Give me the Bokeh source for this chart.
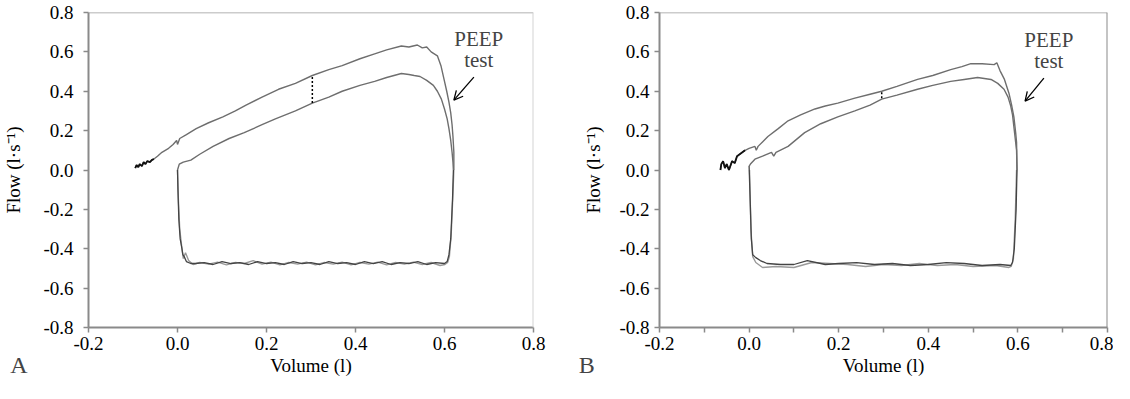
from bokeh.plotting import figure
from bokeh.models import Range1d, FixedTicker, PrintfTickFormatter, Span, Label, Arrow, OpenHead
from bokeh.layouts import row
from bokeh.embed import file_html
from bokeh.resources import INLINE

FONT = "Liberation Serif"

# ---------------- Panel A data ----------------
A_outer_v = [-0.095, -0.092, -0.088, -0.085, -0.08, -0.076, -0.072, -0.068, -0.062, -0.058, -0.053, -0.045,
             -0.035, -0.02, -0.01, -0.002, 0.0, 0.005, 0.02, 0.042, 0.07, 0.102, 0.13, 0.154, 0.19, 0.227,
             0.265, 0.303, 0.34, 0.37, 0.41, 0.443, 0.47, 0.503, 0.52, 0.539, 0.55, 0.56, 0.57, 0.584,
             0.592, 0.599, 0.605, 0.61, 0.614, 0.617, 0.619, 0.621, 0.621]
A_outer_f = [0.01, 0.025, 0.015, 0.03, 0.02, 0.04, 0.03, 0.045, 0.04, 0.05, 0.056, 0.07,
             0.09, 0.11, 0.13, 0.15, 0.13, 0.16, 0.18, 0.21, 0.24, 0.27, 0.30, 0.33, 0.37, 0.41,
             0.44, 0.48, 0.51, 0.53, 0.565, 0.59, 0.61, 0.63, 0.625, 0.635, 0.62, 0.625, 0.60, 0.58,
             0.53, 0.46, 0.40, 0.345, 0.29, 0.23, 0.17, 0.09, 0.0]
A_inner_v = [0.0, 0.004, 0.013, 0.03, 0.05, 0.08, 0.116, 0.15, 0.19, 0.22, 0.265, 0.303, 0.34, 0.37, 0.41,
             0.443, 0.47, 0.503, 0.52, 0.532, 0.545, 0.56, 0.575, 0.584, 0.593, 0.6, 0.606, 0.61, 0.614,
             0.617, 0.619, 0.62]
A_inner_f = [0.0, 0.03, 0.04, 0.05, 0.08, 0.12, 0.16, 0.19, 0.23, 0.26, 0.30, 0.34, 0.37, 0.40, 0.43,
             0.45, 0.47, 0.49, 0.485, 0.48, 0.475, 0.455, 0.43, 0.40, 0.36, 0.31, 0.26, 0.21, 0.15,
             0.09, 0.04, 0.0]
A_insp1_v = [0.620, 0.618, 0.614, 0.610, 0.606, 0.600, 0.58, 0.56, 0.54, 0.52, 0.50, 0.48, 0.46, 0.44, 0.42,
             0.40, 0.38, 0.36, 0.34, 0.32, 0.30, 0.28, 0.26, 0.24, 0.22, 0.20, 0.18, 0.16, 0.14, 0.12,
             0.10, 0.08, 0.06, 0.04, 0.03, 0.02, 0.015, 0.012, 0.01, 0.006, 0.003, 0.001, 0.0]
A_insp1_f = [0.0, -0.15, -0.35, -0.43, -0.465, -0.475, -0.47, -0.48, -0.465, -0.475, -0.47, -0.48, -0.465,
             -0.475, -0.465, -0.48, -0.47, -0.475, -0.465, -0.48, -0.47, -0.475, -0.465, -0.48, -0.47,
             -0.475, -0.465, -0.48, -0.47, -0.475, -0.465, -0.48, -0.47, -0.475, -0.475, -0.465, -0.44,
             -0.43, -0.40, -0.35, -0.25, -0.1, 0.0]
A_insp2_v = [0.621, 0.619, 0.615, 0.611, 0.607, 0.601, 0.59, 0.57, 0.55, 0.53, 0.51, 0.49, 0.47, 0.45, 0.43,
             0.41, 0.39, 0.37, 0.35, 0.33, 0.31, 0.29, 0.27, 0.25, 0.23, 0.21, 0.19, 0.17, 0.15, 0.13,
             0.11, 0.09, 0.07, 0.05, 0.035, 0.025, 0.018, 0.013, 0.009, 0.005, 0.002, 0.0]
A_insp2_f = [0.0, -0.12, -0.33, -0.44, -0.47, -0.48, -0.485, -0.47, -0.48, -0.468, -0.478, -0.47, -0.482,
             -0.468, -0.478, -0.47, -0.482, -0.468, -0.478, -0.47, -0.482, -0.468, -0.478, -0.47, -0.482,
             -0.468, -0.478, -0.46, -0.475, -0.47, -0.482, -0.468, -0.478, -0.47, -0.48, -0.46, -0.42,
             -0.45, -0.38, -0.30, -0.15, 0.0]
A_dot_v = [0.303, 0.303]
A_dot_f = [0.34, 0.48]

# ---------------- Panel B data ----------------
B_outer_v = [-0.064, -0.062, -0.058, -0.054, -0.05, -0.045, -0.038, -0.032, -0.027, -0.018, -0.009, 0.0,
             0.013, 0.016, 0.02, 0.042, 0.065, 0.087, 0.115, 0.147, 0.17, 0.198, 0.236, 0.27, 0.296, 0.33,
             0.376, 0.41, 0.45, 0.475, 0.495, 0.52, 0.547, 0.553, 0.56, 0.57, 0.58, 0.586, 0.591, 0.595,
             0.597, 0.598]
B_outer_f = [0.0, 0.03, 0.045, 0.01, 0.03, 0.0, 0.045, 0.035, 0.07, 0.085, 0.10, 0.11,
             0.12, 0.10, 0.12, 0.17, 0.21, 0.25, 0.28, 0.31, 0.325, 0.34, 0.365, 0.385, 0.40, 0.425,
             0.46, 0.48, 0.51, 0.525, 0.54, 0.54, 0.535, 0.545, 0.505, 0.46, 0.39, 0.33, 0.27, 0.19,
             0.14, 0.0]
B_inner_v = [0.0, 0.003, 0.013, 0.03, 0.05, 0.055, 0.06, 0.087, 0.124, 0.16, 0.198, 0.236, 0.27, 0.296,
             0.33, 0.376, 0.41, 0.45, 0.48, 0.51, 0.54, 0.555, 0.569, 0.578, 0.584, 0.588, 0.591, 0.594,
             0.597, 0.598]
B_inner_f = [0.02, 0.03, 0.055, 0.07, 0.09, 0.07, 0.09, 0.12, 0.19, 0.235, 0.27, 0.30, 0.33, 0.36,
             0.38, 0.41, 0.43, 0.45, 0.46, 0.47, 0.46, 0.44, 0.41, 0.37, 0.325, 0.28, 0.22, 0.16,
             0.10, 0.0]
B_insp1_v = [0.598, 0.596, 0.592, 0.588, 0.584, 0.56, 0.52, 0.48, 0.44, 0.40, 0.36, 0.32, 0.28, 0.24, 0.20,
             0.17, 0.13, 0.10, 0.07, 0.04, 0.025, 0.015, 0.008, 0.005, 0.003, 0.0]
B_insp1_f = [0.0, -0.2, -0.4, -0.47, -0.485, -0.48, -0.485, -0.475, -0.47, -0.48, -0.485, -0.475, -0.48,
             -0.47, -0.475, -0.48, -0.46, -0.48, -0.48, -0.475, -0.46, -0.445, -0.43, -0.35, -0.2, 0.02]
B_insp2_v = [0.597, 0.594, 0.59, 0.585, 0.58, 0.55, 0.5, 0.46, 0.42, 0.38, 0.34, 0.30, 0.26, 0.22, 0.18,
             0.14, 0.10, 0.06, 0.03, 0.015, 0.008, 0.004, 0.001]
B_insp2_f = [0.0, -0.25, -0.45, -0.49, -0.495, -0.485, -0.49, -0.48, -0.485, -0.475, -0.485, -0.48, -0.49,
             -0.48, -0.475, -0.47, -0.495, -0.49, -0.495, -0.47, -0.44, -0.3, 0.0]
B_dot_v = [0.296, 0.296]
B_dot_f = [0.365, 0.40]

x_ticks = [-0.2, 0.0, 0.2, 0.4, 0.6, 0.8]
x_minor = [-0.1, 0.1, 0.3, 0.5, 0.7]
y_ticks = [-0.8, -0.6, -0.4, -0.2, 0.0, 0.2, 0.4, 0.6, 0.8]

AXIS_COL = "#8a8a8a"


def make_panel(outer, inner, insp1, insp2, dot, arrow_pts, peep_pos, minor, right_col,
               width, border_left, border_right, ylab_standoff, ytick_standoff,
               letter_label, letter_side):
    p = figure(width=width, height=383, output_backend="svg", toolbar_location=None,
               x_range=Range1d(-0.2, 0.8), y_range=Range1d(-0.8, 0.8),
               min_border_left=border_left, min_border_right=border_right,
               min_border_top=12, min_border_bottom=56)
    p.outline_line_color = None
    p.xgrid.visible = False
    p.ygrid.visible = False

    p.xaxis.ticker = FixedTicker(ticks=x_ticks, minor_ticks=(x_minor if minor else []))
    p.yaxis.ticker = FixedTicker(ticks=y_ticks)
    for ax in (p.xaxis[0], p.yaxis[0]):
        ax.formatter = PrintfTickFormatter(format="%.1f")
        ax.axis_line_color = AXIS_COL
        ax.axis_line_width = 2
        ax.major_tick_line_color = AXIS_COL
        ax.major_tick_line_width = 1.5
        ax.major_tick_in = 0
        ax.major_tick_out = 5
        ax.minor_tick_line_color = AXIS_COL if minor else None
        ax.minor_tick_line_width = 1.5
        ax.minor_tick_in = 0
        ax.minor_tick_out = 5
        ax.major_label_text_font = FONT
        ax.major_label_text_font_size = "19px"
        ax.major_label_text_color = "black"
        ax.axis_label_text_font = FONT
        ax.axis_label_text_font_size = "19px"
        ax.axis_label_text_font_style = "normal"
        ax.axis_label_text_color = "black"
    p.yaxis[0].minor_tick_line_color = None
    p.xaxis[0].axis_label = "Volume (l)"
    p.yaxis[0].axis_label = "Flow (l\u00b7s\u207b\u00b9)"
    p.xaxis[0].major_label_standoff = 4
    p.yaxis[0].major_label_standoff = ytick_standoff
    p.xaxis[0].axis_label_standoff = 2
    p.yaxis[0].axis_label_standoff = ylab_standoff

    p.add_layout(Span(location=0.8, dimension="width", line_color="#999999", line_width=1.5))
    p.add_layout(Span(location=0.8, dimension="height", line_color=right_col, line_width=2))

    p.line(insp2[0], insp2[1], line_color="#9a9a9a", line_width=1.4)
    p.line(insp1[0], insp1[1], line_color="#444444", line_width=1.3)
    p.line(outer[0], outer[1], line_color="#6e6e6e", line_width=1.4)
    p.line(inner[0], inner[1], line_color="#6e6e6e", line_width=1.4)
    p.line(outer[0][:11], outer[1][:11], line_color="#111111", line_width=1.8)
    p.line(dot[0], dot[1], line_color="black", line_width=1.5, line_dash="2 2")

    p.add_layout(Arrow(end=OpenHead(size=9, line_width=1.3, line_color="black"),
                       x_start=arrow_pts[0], y_start=arrow_pts[1],
                       x_end=arrow_pts[2], y_end=arrow_pts[3],
                       line_color="black", line_width=1.3))
    p.add_layout(Label(x=peep_pos[0], y=peep_pos[1], text="PEEP", text_align="center",
                       text_baseline="middle", text_font=FONT, text_font_size="21px"))
    p.add_layout(Label(x=peep_pos[0], y=peep_pos[2], text="test", text_align="center",
                       text_baseline="middle", text_font=FONT, text_font_size="21px"))
    p.add_layout(letter_label, letter_side)
    return p


label_A = Label(x=-0.376, y=-0.99, text="A", text_align="left",
                text_baseline="alphabetic", text_font=FONT, text_font_size="24px")
label_B = Label(x=-0.38, y=-0.99, text="B", text_align="left",
                text_baseline="alphabetic", text_font=FONT, text_font_size="24px")

pA = make_panel((A_outer_v, A_outer_f), (A_inner_v, A_inner_f), (A_insp1_v, A_insp1_f),
                (A_insp2_v, A_insp2_f), (A_dot_v, A_dot_f),
                (0.666, 0.472, 0.621, 0.355), (0.677, 0.665, 0.56), False, "#d4d4d4",
                564, 84, 31, 16, 10, label_A, "right")
pB = make_panel((B_outer_v, B_outer_f), (B_inner_v, B_inner_f), (B_insp1_v, B_insp1_f),
                (B_insp2_v, B_insp2_f), (B_dot_v, B_dot_f),
                (0.658, 0.467, 0.616, 0.35), (0.669, 0.66, 0.553), True, "#8a8a8a",
                549, 92, 6, 12, 5, label_B, "left")

layout = row(pA, pB)
open("out.html", "w").write(file_html(layout, INLINE))
